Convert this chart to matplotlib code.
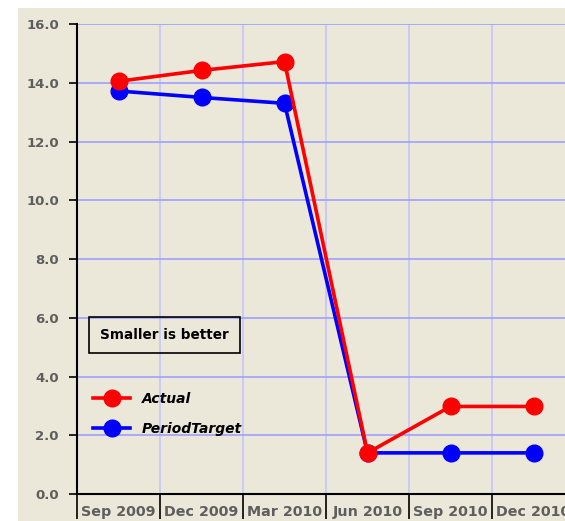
import numpy as np
import matplotlib
matplotlib.use('Agg')
import matplotlib.pyplot as plt
from matplotlib.patches import Rectangle

# ------------------------- DATA -------------------------
periods = ['Sep 2009', 'Dec 2009', 'Mar 2010', 'Jun 2010', 'Sep 2010', 'Dec 2010']
actual = [14.05, 14.42, 14.72, 1.40, 2.98, 2.98]
period_target = [13.72, 13.50, 13.30, 1.40, 1.40, 1.40]
y_ticks = [0, 2, 4, 6, 8, 10, 12, 14, 16]

bg = '#ebe7d9'
grey = '#5e5e5e'

fig = plt.figure(figsize=(5.65, 5.21), dpi=100)
fig.patch.set_facecolor('white')
# beige panel behind the chart
fig.add_artist(Rectangle((18 / 565, 0), 1, 1 - 8 / 521, transform=fig.transFigure,
                         facecolor=bg, edgecolor='none', zorder=-5))

ax = fig.add_axes([77 / 565, 27 / 521, 498 / 565, 470 / 521])
ax.set_facecolor(bg)

x = np.arange(len(periods))
ax.plot(x, period_target, color='#0000ff', lw=2.6, marker='o', ms=12, label='PeriodTarget', zorder=3,
        clip_on=False)
ax.plot(x, actual, color='#ff0000', lw=2.6, marker='o', ms=12, label='Actual', zorder=4, clip_on=False)

ax.set_xlim(-0.5, len(periods) - 0.5)
ax.set_ylim(0, 16)

# y axis
ax.set_yticks(y_ticks)
ax.set_yticklabels(['%.1f' % v for v in y_ticks], fontsize=9.5, fontweight='bold', color=grey)
ax.tick_params(axis='y', length=6, width=1.2, color='black', pad=7)
ax.yaxis.grid(True, color='#9f9fff', lw=1.2)

# x axis: labels centred in categories, ticks on boundaries
ax.set_xticks(x)
ax.set_xticklabels(periods, fontsize=10.3, fontweight='bold', color=grey)
ax.tick_params(axis='x', which='major', length=0, pad=8)
ax.set_xticks(np.arange(-0.5, len(periods), 1.0), minor=True)
ax.tick_params(axis='x', which='minor', length=18, width=1.2, color='black')
ax.xaxis.grid(True, which='minor', color='#c4c4ff', lw=1.2)
ax.set_axisbelow(True)

for side in ['top', 'right']:
    ax.spines[side].set_visible(False)
ax.spines['left'].set_linewidth(1.5)
ax.spines['bottom'].set_linewidth(1.5)

ax.text(0.176, 0.339, 'Smaller is better', transform=ax.transAxes, ha='center', va='center',
        fontsize=9.8, fontweight='bold', color='black',
        bbox=dict(boxstyle='square,pad=0.8', facecolor='none', edgecolor='black', lw=1.2))

handles, labels = ax.get_legend_handles_labels()
leg = ax.legend(handles[::-1], labels[::-1], loc='upper left', bbox_to_anchor=(0.032, 0.218),
                frameon=False, handlelength=2.7, handletextpad=0.8, labelspacing=1.15,
                borderpad=0, borderaxespad=0,
                prop={'weight': 'bold', 'style': 'italic', 'size': 10})

fig.savefig('out.png', dpi=100, facecolor='white')
